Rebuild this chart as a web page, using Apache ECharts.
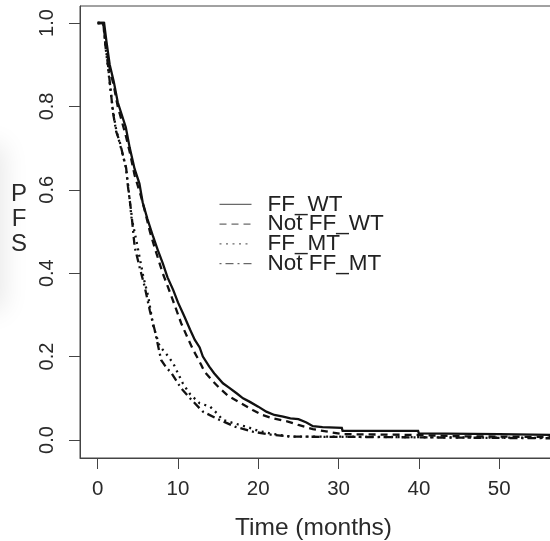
<!DOCTYPE html>
<html>
<head>
<meta charset="utf-8">
<script src="https://cdn.jsdelivr.net/npm/echarts@6/dist/echarts.min.js"></script>
<style>
html,body{margin:0;padding:0;background:#fff;}
#chart{width:550px;height:541px;}
</style>
</head>
<body>
<div id="chart"></div>
<script>
// ---- Data ----
const seriesNames = ['FF_WT', 'Not FF_WT', 'FF_MT', 'Not FF_MT'];
const xTicks = [0, 10, 20, 30, 40, 50];
const yTicks = [0, 0.2, 0.4, 0.6, 0.8, 1.0];
const yTitle = 'P\nF\nS';
const xTitle = 'Time (months)';

const ffWtTime = [0, 0.8, 1.1, 1.5, 2.0, 2.5, 3.0, 3.5, 4.0, 4.6, 5.2, 5.6, 6.2, 6.9, 7.5, 8.1, 8.7, 9.4, 10.0, 10.8, 11.5, 12.1, 12.7, 13.1, 13.9, 14.5, 15.6, 16.4, 17.3, 18.1, 18.9, 20.0, 21.0, 22.0, 23.1, 24.0, 25.0, 26.0, 26.8, 28.0, 30.4, 30.5, 39.9, 40.0, 50.0, 57.2];
const ffWtPfs  = [1.0, 1.0, 0.955, 0.90, 0.86, 0.81, 0.78, 0.75, 0.70, 0.65, 0.615, 0.57, 0.53, 0.488, 0.455, 0.424, 0.39, 0.36, 0.33, 0.296, 0.265, 0.24, 0.222, 0.20, 0.176, 0.16, 0.136, 0.125, 0.112, 0.10, 0.092, 0.08, 0.068, 0.06, 0.056, 0.052, 0.05, 0.042, 0.033, 0.031, 0.029, 0.022, 0.022, 0.016, 0.014, 0.012];

const notFfWtTime = [0, 0.7, 1.0, 1.5, 2.0, 2.5, 3.0, 3.5, 4.0, 4.6, 5.4, 6.0, 6.5, 7.2, 8.1, 9.2, 10.4, 11.2, 11.9, 12.9, 13.3, 14.4, 15.2, 16.3, 17.5, 19.3, 20.5, 21.8, 23.7, 25.0, 26.8, 28.9, 30.5, 40.0, 45.0, 57.2];
const notFfWtPfs  = [1.0, 1.0, 0.95, 0.89, 0.85, 0.80, 0.765, 0.73, 0.69, 0.635, 0.584, 0.54, 0.50, 0.455, 0.40, 0.344, 0.28, 0.245, 0.216, 0.18, 0.164, 0.14, 0.124, 0.105, 0.092, 0.072, 0.06, 0.052, 0.044, 0.036, 0.026, 0.019, 0.014, 0.012, 0.009, 0.007];

const ffMtTime = [0, 0.7, 1.0, 1.3, 1.6, 1.9, 2.3, 2.7, 3.1, 3.5, 3.8, 4.2, 4.8, 5.2, 5.7, 6.3, 6.9, 7.7, 8.6, 9.4, 10.0, 10.6, 11.5, 12.7, 14.0, 14.8, 15.6, 17.0, 18.5, 20.0, 21.4, 23.0, 23.9, 30.0, 45.0, 57.2];
const ffMtPfs  = [1.0, 1.0, 0.94, 0.89, 0.84, 0.79, 0.745, 0.715, 0.685, 0.655, 0.61, 0.535, 0.48, 0.44, 0.39, 0.344, 0.275, 0.226, 0.205, 0.184, 0.16, 0.136, 0.11, 0.088, 0.08, 0.065, 0.048, 0.04, 0.032, 0.022, 0.016, 0.011, 0.008, 0.008, 0.006, 0.005];

const notFfMtTime = [0, 0.7, 1.0, 1.28, 1.5, 1.9, 2.3, 2.75, 3.15, 3.55, 3.77, 4.2, 4.6, 5.2, 5.85, 6.5, 7.1, 7.9, 8.5, 9.2, 10.4, 11.7, 13.1, 15.2, 17.1, 19.3, 21.8, 24.3, 35.0, 57.2];
const notFfMtPfs  = [1.0, 1.0, 0.94, 0.90, 0.86, 0.787, 0.74, 0.715, 0.683, 0.652, 0.608, 0.544, 0.464, 0.416, 0.368, 0.31, 0.264, 0.192, 0.175, 0.16, 0.124, 0.096, 0.068, 0.048, 0.032, 0.02, 0.012, 0.008, 0.007, 0.004];

// ---- Build ----
function pairs(t, s) { return t.map((v, i) => [v, s[i]]); }
const seriesData = [
  pairs(ffWtTime, ffWtPfs),
  pairs(notFfWtTime, notFfWtPfs),
  pairs(ffMtTime, ffMtPfs),
  pairs(notFfMtTime, notFfMtPfs)
];
const dashTypes = ['solid', [7, 5], [2, 4.5], [2, 4, 8, 4]];

const FONT = '"Liberation Sans", Arial, Helvetica, sans-serif';
const chart = echarts.init(document.getElementById('chart'), null, { renderer: 'canvas' });

chart.setOption({
  animation: false,
  backgroundColor: '#ffffff',
  textStyle: { fontFamily: FONT },
  graphic: [{
    type: 'rect',
    silent: true,
    z: -10,
    shape: { x: -40, y: 145, width: 40, height: 165 },
    style: { fill: '#ececec', shadowBlur: 26, shadowColor: '#e8e8e8', shadowOffsetX: 4 }
  }, {
    type: 'text',
    silent: true,
    x: 19, y: 219,
    style: {
      text: yTitle,
      font: '24px ' + FONT,
      fill: '#2a2a2a',
      align: 'center',
      verticalAlign: 'middle',
      lineHeight: 25
    }
  }],
  grid: {
    left: 80, top: 6, width: 477, height: 452,
    outerBoundsMode: 'none',
    containLabel: false,
    show: true, borderColor: '#444', borderWidth: 1
  },
  legend: {
    orient: 'vertical',
    left: 219, top: 192.8,
    padding: 0,
    itemWidth: 32, itemHeight: 10,
    itemGap: -3.2,
    selectedMode: false,
    data: seriesNames,
    lineStyle: { width: 1, color: '#444' },
    itemStyle: { opacity: 0 },
    textStyle: {
      fontFamily: FONT, fontSize: 22.5, color: '#222',
      padding: [0, 0, 0, 11]
    }
  },
  xAxis: {
    type: 'value',
    min: -2.2, max: 57.2,
    name: xTitle,
    nameLocation: 'middle',
    nameGap: 58,
    nameTextStyle: { fontFamily: FONT, fontSize: 24.5, color: '#2a2a2a', padding: [0, 10, 0, 0] },
    splitLine: { show: false },
    axisLine: { show: true, onZero: false, lineStyle: { color: '#444', width: 1 } },
    axisTick: { show: true, length: 11, customValues: xTicks, lineStyle: { color: '#444', width: 1 } },
    axisLabel: {
      customValues: xTicks, margin: 21,
      fontFamily: FONT, fontSize: 20.5, color: '#2a2a2a'
    }
  },
  yAxis: {
    type: 'value',
    min: -0.0432, max: 1.0408,
    splitLine: { show: false },
    axisLine: { show: true, onZero: false, lineStyle: { color: '#444', width: 1 } },
    axisTick: { show: true, length: 11, customValues: yTicks, lineStyle: { color: '#444', width: 1 } },
    axisLabel: {
      customValues: yTicks, rotate: 90, margin: 23,
      fontFamily: FONT, fontSize: 20, color: '#2a2a2a',
      formatter: v => v.toFixed(1)
    }
  },
  series: seriesNames.map((name, i) => ({
    name: name,
    type: 'line',
    data: seriesData[i],
    symbol: 'none',
    showSymbol: false,
    silent: true,
    clip: true,
    lineStyle: { color: '#111', width: 2.3, type: dashTypes[i], cap: 'butt', join: 'miter' }
  }))
});
</script>
</body>
</html>
